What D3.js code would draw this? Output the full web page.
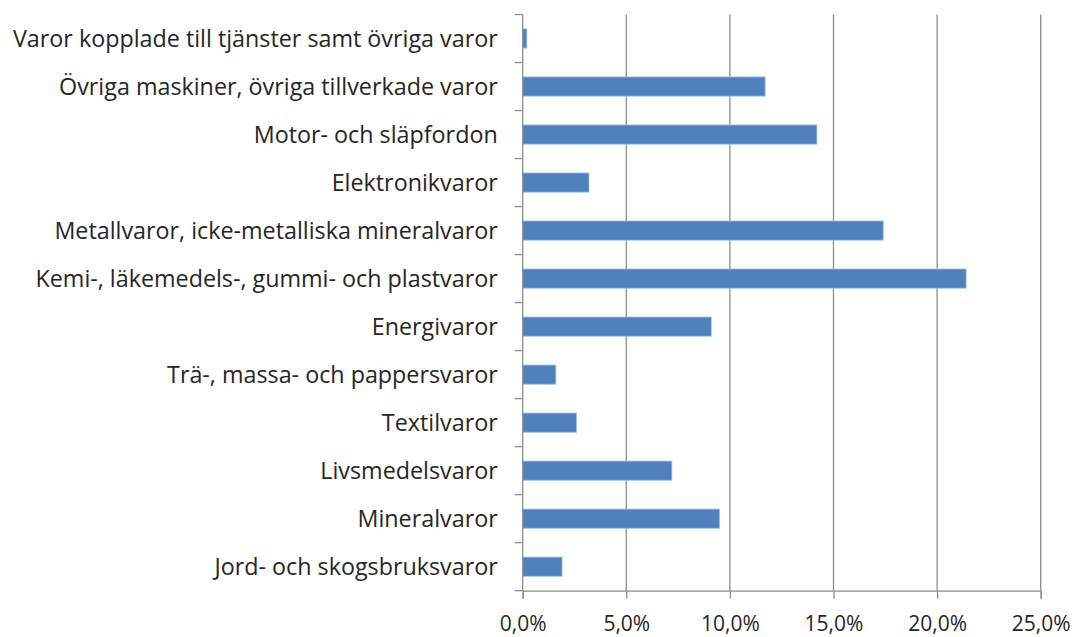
<!DOCTYPE html>
<html>
<head>
<meta charset="utf-8">
<script src="https://cdn.jsdelivr.net/npm/d3@7"></script>
<style>
  html, body { margin: 0; padding: 0; background: #fff; }
  svg text { font-family: "Open Sans", Lato, sans-serif; fill: #262626; }
</style>
</head>
<body>
<svg id="chart" width="1077" height="637"></svg>
<script>
// Product groups, listed bottom to top as drawn
const categories = [
  "Jord- och skogsbruksvaror",
  "Mineralvaror",
  "Livsmedelsvaror",
  "Textilvaror",
  "Trä-, massa- och pappersvaror",
  "Energivaror",
  "Kemi-, läkemedels-, gummi- och plastvaror",
  "Metallvaror, icke-metalliska mineralvaror",
  "Elektronikvaror",
  "Motor- och släpfordon",
  "Övriga maskiner, övriga tillverkade varor",
  "Varor kopplade till tjänster samt övriga varor"
];
// Share of total, percent
const values = [1.9, 9.5, 7.2, 2.6, 1.6, 9.1, 21.4, 17.4, 3.2, 14.2, 11.7, 0.2];
const xTicks = [0, 5, 10, 15, 20, 25];

const svg = d3.select("#chart");
const margin = { left: 522.7, right: 36.3, top: 14.5, bottom: 46.3 };
const W = 1077, H = 637;
const innerW = W - margin.left - margin.right;
const innerH = H - margin.top - margin.bottom;

const x = d3.scaleLinear().domain([0, 25]).range([0, innerW]);
const y = d3.scaleBand()
  .domain(categories.slice().reverse())
  .range([0, innerH])
  .paddingInner(0.6)
  .paddingOuter(0.3);

const g = svg.append("g").attr("transform", `translate(${margin.left},${margin.top})`);
const gridColor = "#8c8c8c";

// vertical gridlines
g.append("g").selectAll("line")
  .data(xTicks.filter(t => t > 0))
  .join("line")
  .attr("x1", d => x(d)).attr("x2", d => x(d))
  .attr("y1", 0).attr("y2", innerH)
  .attr("stroke", gridColor).attr("stroke-width", 1.3);

// bars
g.append("g").selectAll("rect")
  .data(categories.map((c, i) => ({ c, v: values[i] })))
  .join("rect")
  .attr("x", 0)
  .attr("y", d => y(d.c))
  .attr("width", d => x(d.v))
  .attr("height", y.bandwidth())
  .attr("fill", "#4f81bd")
  .attr("stroke", "#a7c0de")
  .attr("stroke-width", 0.8);

// x axis
const xAxis = d3.axisBottom(x)
  .tickValues(xTicks)
  .tickSize(8)
  .tickPadding(17.5)
  .tickFormat(d => d3.format(".1f")(d).replace(".", ",") + "%");
const gx = g.append("g").attr("transform", `translate(0,${innerH})`).call(xAxis);
gx.select(".domain").attr("stroke", gridColor).attr("stroke-width", 1.3);
gx.selectAll(".tick line").attr("stroke", gridColor).attr("stroke-width", 1.3);
gx.selectAll(".tick text")
  .attr("font-size", 21)
  .attr("fill", "#262626");

// y axis: tick marks at category boundaries, labels at band centres
const boundaries = d3.range(categories.length + 1).map(i => i * (innerH / categories.length));
g.append("line")
  .attr("x1", 0).attr("x2", 0).attr("y1", 0).attr("y2", innerH)
  .attr("stroke", gridColor).attr("stroke-width", 1.3);
g.append("g").selectAll("line")
  .data(boundaries)
  .join("line")
  .attr("x1", -8).attr("x2", 0)
  .attr("y1", d => d).attr("y2", d => d)
  .attr("stroke", gridColor).attr("stroke-width", 1.3);

g.append("g").selectAll("text")
  .data(categories)
  .join("text")
  .attr("x", -25)
  .attr("y", d => y(d) + y.bandwidth() / 2)
  .attr("dy", "0.36em")
  .attr("text-anchor", "end")
  .attr("font-size", 23.3)
  .text(d => d);
</script>
</body>
</html>
